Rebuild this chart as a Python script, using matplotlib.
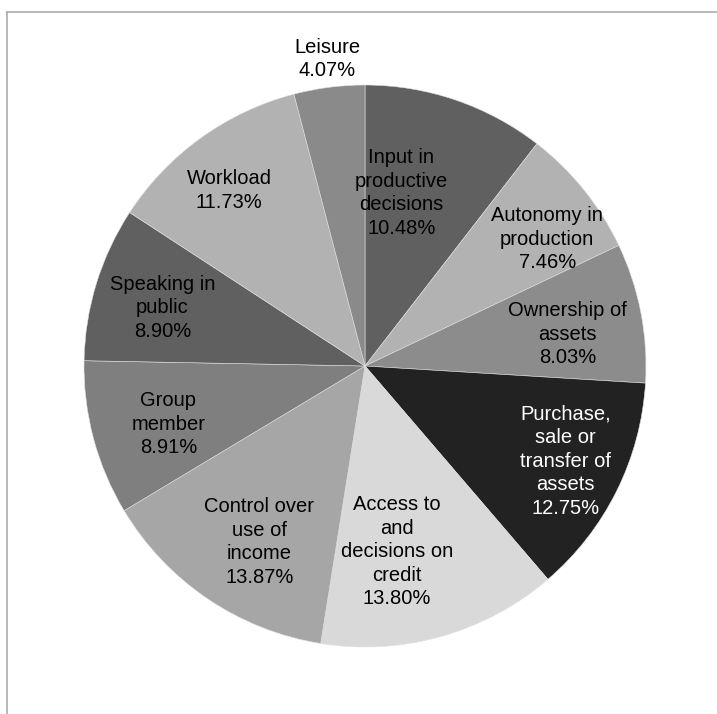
import numpy as np
import matplotlib.pyplot as plt
from matplotlib.lines import Line2D

plt.rcParams['font.family'] = ['Liberation Sans', 'DejaVu Sans']

# slices, clockwise from 12 o'clock
labels = ['Input in\nproductive\ndecisions', 'Autonomy in\nproduction', 'Ownership of\nassets',
          'Purchase,\nsale or\ntransfer of\nassets', 'Access to\nand\ndecisions on\ncredit',
          'Control over\nuse of\nincome', 'Group\nmember', 'Speaking in\npublic', 'Workload', 'Leisure']
shares = [10.48, 7.46, 8.03, 12.75, 13.80, 13.87, 8.91, 8.90, 11.73, 4.07]
colors = ['#606060', '#b2b2b2', '#8c8c8c', '#222222', '#d9d9d9',
          '#a6a6a6', '#7f7f7f', '#606060', '#b2b2b2', '#8a8a8a']
text_colors = ['black', 'black', 'black', 'white', 'black',
               'black', 'black', 'black', 'black', 'black']
# how far out each label sits (fraction of radius) and a small angle nudge in degrees
label_dist = [0.63, 0.79, 0.73, 0.79, 0.67, 0.73, 0.73, 0.75, 0.79, 1.10]
label_nudge = [-7, 4, 2, -1, 6, -3, -1.5, -1, -2, 0.3]

fig = plt.figure(figsize=(7.17, 7.14), dpi=100)
ax = fig.add_axes([84 / 717, 1 - 647 / 714, 562 / 717, 562 / 714])

wedges, _ = ax.pie(shares, colors=colors, startangle=90, counterclock=False,
                   radius=1, wedgeprops=dict(linewidth=0.4, edgecolor='#e0e0e0'))
ax.set_xlim(-1, 1)
ax.set_ylim(-1, 1)
ax.axis('off')

for w, lab, val, tc, d, nud in zip(wedges, labels, shares, text_colors, label_dist, label_nudge):
    ang = np.deg2rad((w.theta1 + w.theta2) / 2 - nud)
    ax.text(d * np.cos(ang), d * np.sin(ang), '%s\n%.2f%%' % (lab, val),
            ha='center', va='center', fontsize=14.5, color=tc, linespacing=1.3,
            clip_on=False)

# chart frame, cut off at right and bottom
fx = 7 / 717
fy = 1 - 11.5 / 714
fig.add_artist(Line2D([fx, fx], [0, fy], transform=fig.transFigure, color='#a6a6a6', lw=1.1))
fig.add_artist(Line2D([fx, 1], [fy, fy], transform=fig.transFigure, color='#a6a6a6', lw=1.1))

fig.savefig('out.png', dpi=100)
